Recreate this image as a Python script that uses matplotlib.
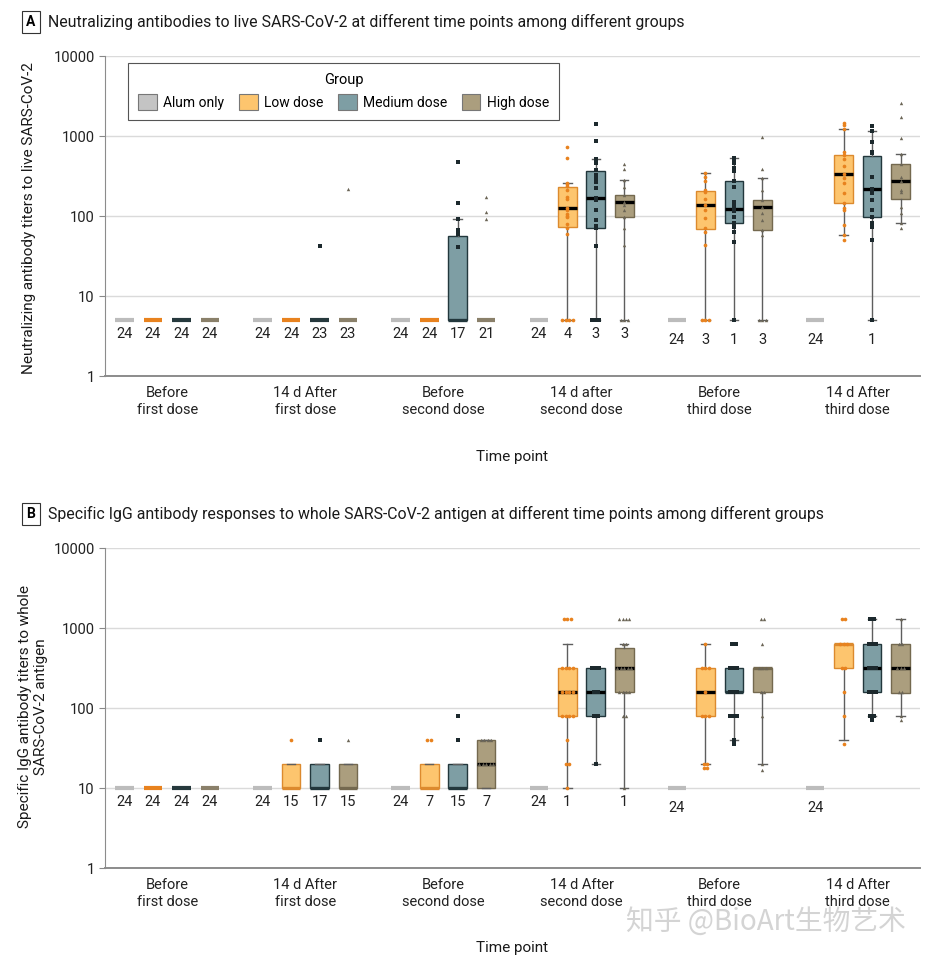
import matplotlib
matplotlib.use("Agg")
from matplotlib import pyplot as plt
from matplotlib.patches import Patch

plt.rcParams['font.family'] = ['Roboto', 'DejaVu Sans']

groups = ["Alum only", "Low dose", "Medium dose", "High dose"]
times_a = ["Before\nfirst dose", "14 d After\nfirst dose", "Before\nsecond dose",
           "14 d after\nsecond dose", "Before\nthird dose", "14 d After\nthird dose"]
times_b = ["Before\nfirst dose", "14 d After\nfirst dose", "Before\nsecond dose",
           "14 d After\nsecond dose", "Before\nthird dose", "14 d After\nthird dose"]

# ---- panel A: neutralizing titers, [time point][group] ----
a_q1 = [[5, 5, 5, 5], [5, 5, 5, 5], [5, 5, 5, 5],
        [5, 73.5, 70, 96], [5, 69, 81, 67], [5, 147, 96, 163]]
a_med = [[5, 5, 5, 5], [5, 5, 5, 5], [5, 5, 5, 5],
         [5, 125, 169, 151], [5, 136, 121, 128], [5, 335, 215, 276]]
a_q3 = [[5, 5, 5, 5], [5, 5, 5, 5], [5, 5, 56, 5],
        [5, 232, 365, 183], [5, 207, 276, 158], [5, 579, 568, 447]]
a_lo = [[5, 5, 5, 5], [5, 5, 5, 5], [5, 5, 5, 5],
        [5, 5, 5, 5], [5, 5, 5, 5], [5, 58, 5, 82]]
a_hi = [[5, 5, 5, 5], [5, 5, 5, 5], [5, 5, 91, 5],
        [5, 256, 515, 282], [5, 347, 537, 295], [5, 1224, 1164, 601]]
a_pts = [
    [[], [], [], []],
    [[], [], [42], [215]],
    [[], [], [470, 147, 91, 67, 60, 41], [173, 112, 92]],
    [[], [735, 525, 256, 250, 237, 211, 175, 162, 125, 119, 106, 100, 96, 79, 70, 60, 5, 5, 5, 5],
     [1400, 870, 515, 455, 376, 325, 296, 269, 222, 169, 158, 119, 89, 75, 70, 42, 5, 5, 5],
     [447, 385, 282, 230, 183, 151, 138, 119, 98, 70, 44, 5, 5, 5]],
    [[], [347, 310, 270, 211, 200, 165, 136, 119, 94, 70, 64, 43, 5, 5, 5],
     [537, 500, 455, 395, 360, 276, 230, 151, 138, 121, 114, 98, 81, 72, 64, 48, 5],
     [980, 385, 295, 211, 158, 128, 108, 89, 67, 58, 5, 5, 5]],
    [[], [1440, 1390, 1224, 640, 579, 510, 420, 335, 296, 256, 193, 147, 125, 119, 77, 58, 50],
     [1334, 1164, 850, 640, 610, 310, 215, 193, 158, 119, 96, 81, 73, 50, 5],
     [2600, 1740, 935, 601, 447, 310, 276, 211, 200, 130, 108, 82, 70]],
]
a_n = [["24", "24", "24", "24"], ["24", "24", "23", "23"], ["24", "24", "17", "21"],
       ["24", "4", "3", "3"], ["24", "3", "1", "3"], ["24", "", "1", ""]]

# ---- panel B: specific IgG titers ----
b_q1 = [[10, 10, 10, 10], [10, 10, 10, 10], [10, 10, 10, 10],
        [10, 80, 80, 160], [10, 80, 160, 160], [10, 320, 160, 155]]
b_med = [[10, 10, 10, 10], [10, 10, 10, 10], [10, 10, 10, 20],
         [10, 160, 160, 320], [10, 160, 160, 320], [10, 640, 320, 320]]
b_q3 = [[10, 10, 10, 10], [10, 20, 20, 20], [10, 20, 20, 40],
        [10, 320, 320, 557], [10, 320, 320, 320], [10, 640, 640, 640]]
b_lo = [[10, 10, 10, 10], [10, 10, 10, 10], [10, 10, 10, 10],
        [10, 10, 20, 10], [10, 20, 40, 20], [10, 40, 80, 80]]
b_hi = [[10, 10, 10, 10], [10, 20, 20, 20], [10, 20, 20, 40],
        [10, 640, 320, 640], [10, 640, 320, 320], [10, 640, 1280, 1280]]
b_pts = [
    [[], [], [], []],
    [[], [40], [40], [40]],
    [[], [40, 40], [80, 40], [40, 40, 40, 40, 20, 20, 20, 20, 20]],
    [[], [1280, 1280, 1280, 320, 320, 320, 320, 160, 160, 160, 160, 80, 80, 80, 80, 40, 20, 20, 10],
     [320, 320, 320, 160, 160, 80, 80, 20],
     [1280, 1280, 1280, 1280, 640, 640, 320, 320, 320, 320, 320, 160, 160, 160, 160, 80, 80, 10]],
    [[], [640, 320, 320, 320, 160, 80, 80, 80, 20, 20, 18, 18],
     [640, 640, 320, 320, 320, 160, 160, 160, 80, 80, 80, 40, 35],
     [1280, 1280, 640, 320, 320, 320, 160, 160, 80, 20, 17]],
    [[], [1280, 1280, 640, 640, 640, 320, 320, 160, 80, 35],
     [1280, 1280, 640, 640, 640, 320, 320, 320, 160, 160, 160, 80, 80, 70],
     [1280, 640, 640, 320, 320, 320, 160, 160, 80, 70]],
]
b_n = [["24", "24", "24", "24"], ["24", "15", "17", "15"], ["24", "7", "15", "7"],
       ["24", "1", "", "1"], ["24", "", "", ""], ["24", "", "", ""]]

fill = ['#c4c4c4', '#fdc56e', '#7e9ea4', '#ab9e7e']
edge = ['#b0b0b0', '#dc8a2e', '#22373c', '#74694f']
flatc = ['#bcbcbc', '#e8821e', '#26393d', '#8a806a']
ptc = ['#aaaaaa', '#e8821e', '#1c292d', '#6b6556']
markers = ['o', 'o', 's', '^']
msize = [6, 7, 5, 6]
offs = [-0.309, -0.103, 0.103, 0.309]
W = 0.135
label_drop = [10, 10, 10, 10, 14.5, 14.5]


def draw_panel(ax, q1, med, q3, lo, hi, pts, counts, base, labels):
    for t in range(6):
        for g in range(4):
            x = t + offs[g]
            if q1[t][g] == q3[t][g]:
                ax.plot([x - W / 2, x + W / 2], [med[t][g]] * 2, color=flatc[g], lw=3,
                        solid_capstyle='butt', zorder=3)
            else:
                st = dict(q1=q1[t][g], med=med[t][g], q3=q3[t][g],
                          whislo=lo[t][g], whishi=hi[t][g], fliers=[])
                mc = 'black' if q1[t][g] < med[t][g] < q3[t][g] else edge[g]
                ax.bxp([st], positions=[x], widths=W, patch_artist=True, showfliers=False,
                       manage_ticks=False, capwidths=W * 0.45,
                       boxprops=dict(facecolor=fill[g], edgecolor=edge[g], lw=1),
                       whiskerprops=dict(color='#5e5e5e', lw=1),
                       capprops=dict(color='#5e5e5e', lw=1),
                       medianprops=dict(color=mc, lw=2.4))
            vals = pts[t][g]
            if vals:
                xs = []
                for i, v in enumerate(vals):
                    same = [j for j, u in enumerate(vals) if u == v]
                    k = same.index(i)
                    xs.append(x + (k - (len(same) - 1) / 2) * 0.025)
                ax.scatter(xs, vals, s=msize[g], marker=markers[g], color=ptc[g], zorder=4,
                           linewidths=0)
            if counts[t][g]:
                ax.annotate(counts[t][g], (x, base), xytext=(0, -label_drop[t]),
                            textcoords='offset points', ha='center', va='center',
                            fontsize=10.5, color='#222222')
    ax.set_yscale('log')
    ax.set_ylim(1, 10000)
    ax.set_xlim(-0.45, 5.45)
    ax.set_yticks([1, 10, 100, 1000, 10000])
    ax.set_yticklabels(['1', '10', '100', '1000', '10000'])
    ax.minorticks_off()
    ax.set_xticks(range(6))
    ax.set_xticklabels(labels, fontsize=10.5, color='#222222', linespacing=1.3)
    ax.tick_params(axis='x', length=0, pad=7)
    ax.tick_params(axis='y', length=4, color='#888888', labelsize=10.5, labelcolor='#222222')
    ax.yaxis.grid(True, color='#dadada', lw=1)
    ax.set_axisbelow(True)
    for s in ['top', 'right']:
        ax.spines[s].set_visible(False)
    ax.spines['left'].set_color('#8c8c8c')
    ax.spines['bottom'].set_color('#8c8c8c')
    ax.spines['bottom'].set_linewidth(1.4)


fig = plt.figure(figsize=(9.29, 9.61), dpi=100)
H, Wd = 961.0, 929.0
axA = fig.add_axes([105 / Wd, 1 - 376 / H, 815 / Wd, 320 / H])
axB = fig.add_axes([105 / Wd, 1 - 868 / H, 815 / Wd, 320 / H])

draw_panel(axA, a_q1, a_med, a_q3, a_lo, a_hi, a_pts, a_n, 5, times_a)
draw_panel(axB, b_q1, b_med, b_q3, b_lo, b_hi, b_pts, b_n, 10, times_b)

handles = [Patch(facecolor=fill[i], edgecolor='#777777', lw=0.8) for i in range(4)]
leg = axA.legend(handles, groups, title="Group", ncol=4, loc='upper left',
                 bbox_to_anchor=(0.028, 0.978), fontsize=10, title_fontsize=10.5,
                 fancybox=False, edgecolor='#555555', framealpha=1,
                 handlelength=1.35, handleheight=1.3, handletextpad=0.45,
                 columnspacing=1.05, borderpad=0.75, borderaxespad=0)
leg.get_frame().set_linewidth(0.8)

# titles with boxed panel letters
for letter, ytop, title in [("A", 22, "Neutralizing antibodies to live SARS-CoV-2 at different time points among different groups"),
                            ("B", 514, "Specific IgG antibody responses to whole SARS-CoV-2 antigen at different time points among different groups")]:
    fig.text(31 / Wd, 1 - ytop / H, letter, ha='center', va='center', fontsize=10, fontweight='bold',
             bbox=dict(boxstyle='square,pad=0.3', facecolor='white', edgecolor='#333333', lw=0.8))
    fig.text(48 / Wd, 1 - ytop / H, title, ha='left', va='center', fontsize=11.4, color='#1a1a1a')

fig.text(512 / Wd, 1 - 457 / H, "Time point", ha='center', va='center', fontsize=11, color='#1a1a1a')
fig.text(512 / Wd, 1 - 948 / H, "Time point", ha='center', va='center', fontsize=11, color='#1a1a1a')
fig.text(29 / Wd, 1 - 218 / H, "Neutralizing antibody titers to live SARS-CoV-2", rotation=90,
         ha='center', va='center', fontsize=11, color='#1a1a1a')
fig.text(33 / Wd, 1 - 707 / H, "Specific IgG antibody titers to whole\nSARS-CoV-2 antigen", rotation=90,
         ha='center', va='center', fontsize=11, color='#1a1a1a', multialignment='center', linespacing=1.2)

fig.text(766 / Wd, 1 - 922 / H, "知乎 @BioArt生物艺术", ha='center', va='center', fontsize=20,
         color='#d4d4d4', family=['Noto Sans CJK SC', 'DejaVu Sans'])

fig.savefig("out.png", dpi=100)
